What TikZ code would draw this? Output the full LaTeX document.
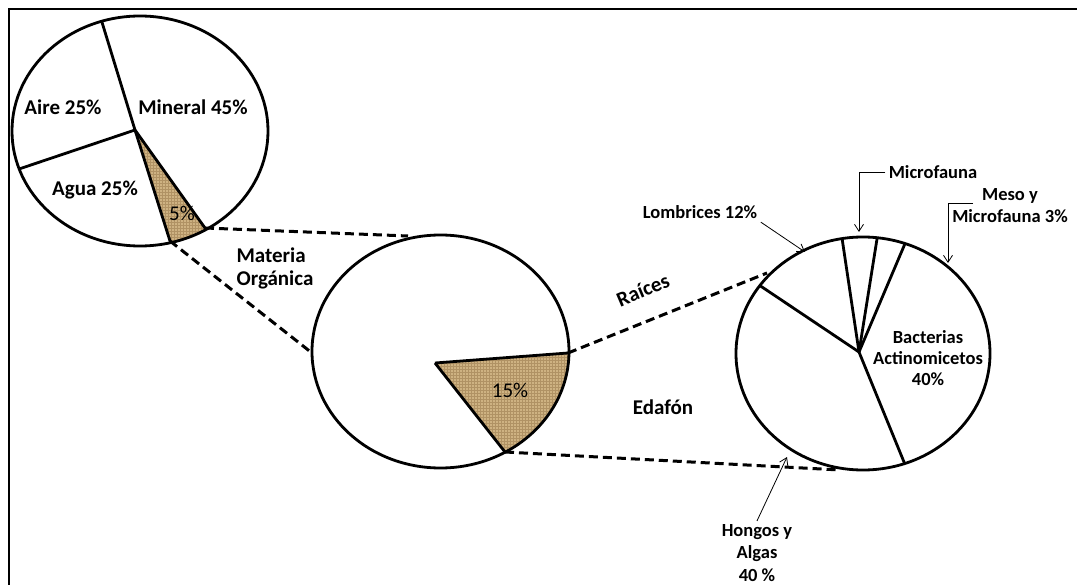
\documentclass[tikz,border=0pt]{standalone}
\usepackage{fontspec}
\setmainfont{Carlito}
\usetikzlibrary{calc,arrows.meta,patterns}
\definecolor{burlap}{RGB}{206,178,130}
\definecolor{burlapdark}{RGB}{176,146,100}
\begin{document}
\begin{tikzpicture}[x=1pt,y=-1pt,
  pie/.style={line width=2.8pt},
  conn/.style={line width=3pt, dash pattern=on 9pt off 5pt},
  big/.style={font=\fontsize{21}{23}\selectfont\bfseries, align=center},
  pct/.style={font=\fontsize{21}{23}\selectfont, align=center},
  small/.style={font=\fontsize{18.5}{22}\selectfont\bfseries, align=center},
  ptr/.style={line width=0.8pt, -{Straight Barb[length=7pt,width=9pt]}},
  wedge/.style={fill=burlap},
  texture/.style={pattern=grid, pattern color=burlapdark}]
\useasboundingbox (0,0) rectangle (1077,585);
\draw[line width=2.2pt] (9,585) -- (9,9) -- (1077,9);

% ---------- top-left pie ----------
\coordinate (Ac) at (140,131);
\coordinate (A) at (135,130);
\coordinate (A1) at (101,19);
\coordinate (A2) at (22,168);
\coordinate (A3) at (170,241);
\coordinate (A4) at (205,228);
\begin{scope}
  \clip (Ac) ellipse [x radius=128pt, y radius=115pt];
  \fill[wedge] (A) -- ($(A)!2!(A3)$) -- ($(A)!2!(A4)$) -- cycle;
  \fill[texture] (A) -- ($(A)!2!(A3)$) -- ($(A)!2!(A4)$) -- cycle;
  \draw[pie] (A) -- ($(A)!1.5!(A1)$);
  \draw[pie] (A) -- ($(A)!1.5!(A2)$);
  \draw[pie] (A) -- ($(A)!1.5!(A3)$);
  \draw[pie] (A) -- ($(A)!1.5!(A4)$);
\end{scope}
\draw[pie] (Ac) ellipse [x radius=128pt, y radius=115pt];

% ---------- middle pie ----------
\coordinate (Bc) at (440.5,351.5);
\coordinate (B) at (435,363);
\coordinate (B0) at (408,236);
\coordinate (B1) at (568,353);
\coordinate (B2) at (505,452);
\coordinate (B5) at (312,353);
\begin{scope}
  \clip (Bc) ellipse [x radius=128.5pt, y radius=116.5pt];
  \fill[wedge] (B) -- ($(B)!2!(B1)$) -- ($(B)!2!(B2)$) -- cycle;
  \fill[texture] (B) -- ($(B)!2!(B1)$) -- ($(B)!2!(B2)$) -- cycle;
  \draw[pie] (B) -- ($(B)!1.5!(B1)$);
  \draw[pie] (B) -- ($(B)!1.5!(B2)$);
\end{scope}
\draw[pie] (Bc) ellipse [x radius=128.5pt, y radius=116.5pt];

% ---------- right pie ----------
\coordinate (Cc) at (863,353.5);
\coordinate (C) at (859,352);
\coordinate (C1) at (762,287);
\coordinate (C2) at (842,238);
\coordinate (C3) at (877,239);
\coordinate (C4) at (904,246);
\coordinate (C5) at (904,462);
\coordinate (C0) at (767,273);
\coordinate (C6) at (840,470);
\begin{scope}
  \clip (Cc) ellipse [x radius=127pt, y radius=116.5pt];
  \foreach \p in {C1,C2,C3,C4,C5}
    \draw[pie] (C) -- ($(C)!1.5!(\p)$);
\end{scope}
\draw[pie] (Cc) ellipse [x radius=127pt, y radius=116.5pt];

% ---------- dashed connectors ----------
\draw[conn] (A4) -- (B0);
\draw[conn] (A3) -- (B5);
\draw[conn] (B1) -- (C0);
\draw[conn] (B2) -- (C6);

% ---------- labels ----------
\node[big] (aire) at (63,107) {Aire 25\%};
\node[big] (mineral) at (193,107) {Mineral 45\%};
\node[big] (agua) at (95,190) {Agua 25\%};
\node[pct] (p5) at (182,213) {5\%};
\node[big, align=left] (mo) at (275,268) {Materia\\Orgánica};
\node[pct] (p15) at (510,390) {15\%};
\node[big, rotate=23] (raices) at (643,290) {Raíces};
\node[big] (edafon) at (663,407) {Edafón};
\node[small, font=\fontsize{18.5}{21}\selectfont\bfseries] (bact) at (928,358) {Bacterias\\Actinomicetos\\40\%};
\node[small] (lomb) at (700,212) {Lombrices 12\%};
\node[small] (micro) at (933,172) {Microfauna};
\node[small] (meso) at (1010,206) {Meso y\\Microfauna 3\%};
\node[small, font=\fontsize{18.5}{22.5}\selectfont\bfseries] (hongos) at (757,553) {Hongos y\\Algas\\40 \%};

% ---------- pointers ----------
\coordinate (lombtip) at (805,252);
\coordinate (microtip) at (859,232);
\coordinate (mesofrom) at (973,203);
\coordinate (mesotip) at (948,263);
\coordinate (hongostip) at (787,457);
\draw[ptr] (lomb.south east) -- (lombtip);
\draw[ptr] (micro.west) -| (microtip);
\draw[ptr] (mesofrom) -| (mesotip);
\draw[ptr] (hongos.north) -- (hongostip);
\end{tikzpicture}
\end{document}
